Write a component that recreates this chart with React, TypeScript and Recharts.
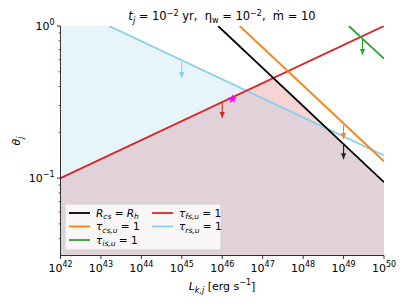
import React from 'react'
import { ComposedChart, Line, Area, Scatter, XAxis, YAxis, ZAxis } from 'recharts'

const lumTicks = [1e42, 1e43, 1e44, 1e45, 1e46, 1e47, 1e48, 1e49, 1e50]
const thetaMajor = [0.1, 1]
const thetaTicks = [0.04, 0.05, 0.06, 0.07, 0.08, 0.09, 0.1, 0.2, 0.3, 0.4, 0.5, 0.6, 0.7, 0.8, 0.9, 1]

// lines (endpoints)
const rcsRh = [{ L: 7.9e45, theta: 1 }, { L: 1e50, theta: 0.094 }]
const tauCs = [{ L: 2.7e46, theta: 1 }, { L: 1e50, theta: 0.129 }]
const tauIs = [{ L: 1.35e49, theta: 1 }, { L: 1e50, theta: 0.61 }]
const tauFs = [{ L: 1e42, theta: 0.1 }, { L: 1e50, theta: 1 }]
const tauRs = [{ L: 1.58e43, theta: 1 }, { L: 1e50, theta: 0.141 }]

// shaded regions
const fsRegion = [{ L: 1e42, theta: 0.1 }, { L: 1.86e47, theta: 0.456 }, { L: 1e50, theta: 0.094 }]
const rsRegion = [{ L: 1e42, theta: 1 }, { L: 1.58e43, theta: 1 }, { L: 4e48, theta: 0.211 }, { L: 1e50, theta: 0.094 }]

// arrows
const arrowRs = [{ L: 1e45, theta: 0.58 }, { L: 1e45, theta: 0.455 }]
const arrowFs = [{ L: 1e46, theta: 0.316 }, { L: 1e46, theta: 0.248 }]
const arrowCs = [{ L: 1e49, theta: 0.223 }, { L: 1e49, theta: 0.181 }]
const arrowRh = [{ L: 1e49, theta: 0.17 }, { L: 1e49, theta: 0.133 }]
const arrowIs = [{ L: 2.95e49, theta: 0.82 }, { L: 2.95e49, theta: 0.645 }]

const star = [{ L: 1.78e46, theta: 0.331 }]

const font = 'DejaVu Sans, sans-serif'
const nb = '\u00a0'

function XTick(props: any) {
  const { x, y, payload } = props
  const exp = Math.round(Math.log10(payload.value))
  return (
    <g>
      <line x1={x} x2={x} y1={y} y2={y + 3.5} stroke="#000" strokeWidth={0.8} />
      <text x={x} y={y + 16.5} textAnchor="middle" fontSize={11} fontFamily={font} fill="#000">
        10<tspan dy={-5} fontSize={8}>{exp}</tspan>
      </text>
    </g>
  )
}

function YTick(props: any) {
  const { x, y, payload } = props
  const v = payload.value
  const major = thetaMajor.includes(v)
  const exp = Math.round(Math.log10(v))
  return (
    <g>
      <line x1={x - (major ? 3.5 : 2)} x2={x} y1={y} y2={y} stroke="#000" strokeWidth={major ? 0.8 : 0.6} />
      {major && (
        <text x={x - 6} y={y + 4} textAnchor="end" fontSize={11} fontFamily={font} fill="#000">
          10<tspan dy={-5} fontSize={8}>{exp < 0 ? '\u2212' + -exp : exp}</tspan>
        </text>
      )}
    </g>
  )
}

const arrowHead = (color: string) => (props: any) => {
  const { cx, cy, index } = props
  if (index !== 1) return <g key={'a' + index} />
  return <path key={'a' + index} d={`M${cx - 2.6},${cy - 6} L${cx + 2.6},${cy - 6} L${cx},${cy} Z`} fill={color} />
}

const legendRows = [
  { color: '#000000', col: 0, row: 0, main: 'R', sub: 'cs', rest: ' = ', main2: 'R', sub2: 'h' },
  { color: '#ff7f0e', col: 0, row: 1, main: '\u03c4', sub: 'cs,u', rest: ' = 1' },
  { color: '#2ca02c', col: 0, row: 2, main: '\u03c4', sub: 'is,u', rest: ' = 1' },
  { color: '#d62728', col: 1, row: 0, main: '\u03c4', sub: 'fs,u', rest: ' = 1' },
  { color: '#87ceeb', col: 1, row: 1, main: '\u03c4', sub: 'rs,u', rest: ' = 1' },
]

function Overlay() {
  return (
    <svg width={407} height={305} style={{ position: 'absolute', left: 0, top: 0, pointerEvents: 'none' }}>
      <text x={222} y={20} textAnchor="middle" fontSize={11.5} fontFamily={font} fill="#000">
        <tspan fontStyle="italic">t</tspan>
        <tspan fontStyle="italic" fontSize={8} dy={2.5}>j</tspan>
        <tspan dy={-2.5}>{' = 10'}</tspan>
        <tspan fontSize={8} dy={-4.5}>{'\u22122'}</tspan>
        <tspan dy={4.5}>{' yr,' + nb + nb + '\u03b7'}</tspan>
        <tspan fontSize={8} dy={2.5}>w</tspan>
        <tspan dy={-2.5}>{' = 10'}</tspan>
        <tspan fontSize={8} dy={-4.5}>{'\u22122'}</tspan>
        <tspan dy={4.5}>{',' + nb + nb + '\u1e41 = 10'}</tspan>
      </text>
      <text x={222} y={290} textAnchor="middle" fontSize={11} fontFamily={font} fill="#000">
        <tspan fontStyle="italic">L</tspan>
        <tspan fontStyle="italic" fontSize={8} dy={2.5}>k,j</tspan>
        <tspan dy={-2.5}>{' [erg s'}</tspan>
        <tspan fontSize={8} dy={-5}>{'\u22121'}</tspan>
        <tspan dy={5}>]</tspan>
      </text>
      <text x={20} y={141} textAnchor="middle" fontSize={11} fontFamily={font} fill="#000" transform="rotate(-90 20 141)">
        <tspan fontStyle="italic">{'\u03b8'}</tspan>
        <tspan fontStyle="italic" fontSize={8} dy={2.5}>j</tspan>
      </text>
      <rect x={65} y={204} width={156} height={46} rx={2} fill="#ffffff" fillOpacity={0.8} stroke="#cccccc" strokeWidth={0.8} />
      {legendRows.map((r) => {
        const lx = r.col === 0 ? 69 : 152
        const ly = 213 + r.row * 13.5
        return (
          <g key={r.sub + r.color}>
            <line x1={lx} x2={lx + 21} y1={ly} y2={ly} stroke={r.color} strokeWidth={1.8} />
            <text x={lx + 27} y={ly + 3.5} fontSize={10.5} fontFamily={font} fill="#000">
              <tspan fontStyle="italic">{r.main}</tspan>
              <tspan fontStyle="italic" fontSize={7.5} dy={2.5}>{r.sub}</tspan>
              <tspan dy={-2.5}>{r.rest}</tspan>
              {r.main2 && <tspan fontStyle="italic">{r.main2}</tspan>}
              {r.sub2 && <tspan fontStyle="italic" fontSize={7.5} dy={2.5}>{r.sub2}</tspan>}
            </text>
          </g>
        )
      })}
    </svg>
  )
}

export default function App() {
  return (
    <div style={{ position: 'absolute', left: 0, top: 0, width: 407, height: 305, background: '#fff' }}>
      <ComposedChart width={407} height={305} margin={{ top: 26, right: 23, left: 0, bottom: 19.5 }}>
        <XAxis dataKey="L" type="number" scale="log" domain={[1e42, 1e50]} allowDataOverflow ticks={lumTicks}
          tick={<XTick />} tickLine={false} tickSize={0} tickMargin={0} height={30} stroke="#000" strokeWidth={0.8} interval={0} />
        <XAxis xAxisId="top" orientation="top" dataKey="L" type="number" scale="log" domain={[1e42, 1e50]} allowDataOverflow
          tick={false} tickLine={false} height={0} stroke="#000" strokeWidth={0.8} />
        <YAxis dataKey="theta" type="number" scale="log" domain={[0.031, 1]} allowDataOverflow ticks={thetaTicks}
          tick={<YTick />} tickLine={false} tickSize={0} tickMargin={0} width={60.5} stroke="#000" strokeWidth={0.8} interval={0} />
        <YAxis yAxisId="right" orientation="right" dataKey="theta" type="number" scale="log" domain={[0.031, 1]} allowDataOverflow
          tick={false} tickLine={false} width={0} stroke="#000" strokeWidth={0.8} />
        <ZAxis range={[28, 28]} />
        <Area data={fsRegion} dataKey="theta" type="linear" fill="#d62728" fillOpacity={0.2} stroke="none" isAnimationActive={false} />
        <Area data={rsRegion} dataKey="theta" type="linear" fill="#87ceeb" fillOpacity={0.2} stroke="none" isAnimationActive={false} />
        <Line data={tauRs} dataKey="theta" stroke="#87ceeb" strokeWidth={1.8} dot={false} isAnimationActive={false} />
        <Line data={tauFs} dataKey="theta" stroke="#d62728" strokeWidth={1.8} dot={false} isAnimationActive={false} />
        <Line data={rcsRh} dataKey="theta" stroke="#000000" strokeWidth={1.8} dot={false} isAnimationActive={false} />
        <Line data={tauCs} dataKey="theta" stroke="#ff7f0e" strokeWidth={1.8} dot={false} isAnimationActive={false} />
        <Line data={tauIs} dataKey="theta" stroke="#2ca02c" strokeWidth={1.8} dot={false} isAnimationActive={false} />
        <Line data={arrowRs} dataKey="theta" stroke="#87ceeb" strokeWidth={1.1} dot={arrowHead('#87ceeb')} activeDot={false} isAnimationActive={false} />
        <Line data={arrowFs} dataKey="theta" stroke="#d62728" strokeWidth={1.1} dot={arrowHead('#d62728')} activeDot={false} isAnimationActive={false} />
        <Line data={arrowCs} dataKey="theta" stroke="#ff7f0e" strokeWidth={1.1} dot={arrowHead('#ff7f0e')} activeDot={false} isAnimationActive={false} />
        <Line data={arrowRh} dataKey="theta" stroke="#222222" strokeWidth={1.1} dot={arrowHead('#222222')} activeDot={false} isAnimationActive={false} />
        <Line data={arrowIs} dataKey="theta" stroke="#2ca02c" strokeWidth={1.1} dot={arrowHead('#2ca02c')} activeDot={false} isAnimationActive={false} />
        <Scatter data={star} dataKey="theta" shape="star" fill="#ff00ff" isAnimationActive={false} />
      </ComposedChart>
      <Overlay />
    </div>
  )
}
